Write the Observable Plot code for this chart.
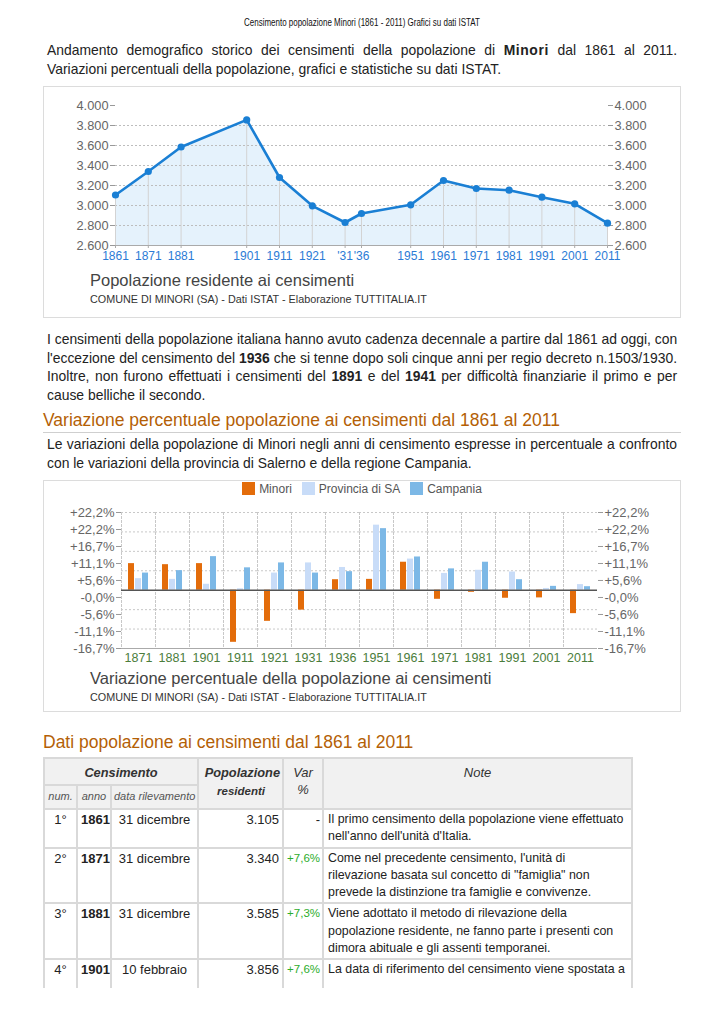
<!DOCTYPE html>
<html lang="it">
<head>
<meta charset="utf-8">
<script src="https://cdn.jsdelivr.net/npm/d3@7"></script>
<script src="https://cdn.jsdelivr.net/npm/@observablehq/plot@0.6"></script>
<style>
  html,body{margin:0;padding:0;background:#fff;}
  body{font-family:"Liberation Sans",Arial,Helvetica,sans-serif;color:#222;}
  #page{position:relative;width:724px;height:1024px;overflow:hidden;}
  .abs{position:absolute;}
  .hdr{top:16px;left:0;width:724px;text-align:center;font-size:10.5px;line-height:12px;color:#111;transform:scaleX(0.76);transform-origin:362px 0;white-space:nowrap;}
  .para{left:47px;width:630px;font-size:13.9px;line-height:18.5px;color:#222;}
  .para div{white-space:nowrap;}
  .para .j{text-align:justify;text-align-last:justify;}
  .box{left:43px;width:638px;height:232px;box-sizing:border-box;border:1px solid #dcdcdc;background:#fff;}
  .box svg{position:absolute;left:0;}
  .ctitle{position:absolute;left:46px;font-size:16.5px;color:#444;line-height:20px;white-space:nowrap;}
  .csub{position:absolute;left:46px;font-size:10.8px;color:#333;line-height:14px;white-space:nowrap;}
  .h2{left:43px;width:638px;font-size:17.5px;line-height:24px;color:#b45f06;white-space:nowrap;}
  .legend{position:absolute;top:1px;left:0;width:100%;text-align:center;font-size:12px;color:#555;line-height:14px;white-space:nowrap;}
  .legend span.it{display:inline-block;margin:0 5px;}
  .legend i{display:inline-block;width:13px;height:13px;vertical-align:-2px;margin-right:4px;}
  table{border-collapse:collapse;table-layout:fixed;width:590px;font-size:13px;line-height:17.3px;color:#222;}
  th,td{border:2px solid #d9d9d9;padding:1px 3px;vertical-align:top;white-space:nowrap;overflow:hidden;}
  th{background:#f1f1f1;font-weight:normal;font-style:italic;color:#333;}
  th.big{font-size:12.8px;font-weight:bold;padding-top:5px;height:19px;}
  th.sub{font-size:11px;color:#555;height:22px;vertical-align:middle;padding:0 2px;}
  th.pop{font-size:12.8px;padding-top:5px;text-align:right;padding-right:2px;}
  th.pop small{font-size:11.5px;font-weight:bold;display:block;text-align:center;margin-top:2px;}
  th.var{font-size:13px;padding-top:5px;text-align:center;}
  th.note{font-size:13px;padding-top:5px;text-align:center;}
  td.c{text-align:center;}
  td.r{text-align:right;}
  td.g{text-align:right;color:#2cad2c;font-size:11.5px;padding:1px 2px;}
  td.n{font-size:12.4px;padding-left:4px;}
  tr.last td{height:50px;}
</style>
</head>
<body>
<div id="page">
  <div class="abs hdr">Censimento popolazione Minori (1861 - 2011) Grafici su dati ISTAT</div>
  <div class="abs para" style="top:41px;line-height:19px;">
    <div class="j">Andamento demografico storico dei censimenti della popolazione di <b style="letter-spacing:0.6px">Minori</b> dal 1861 al 2011.</div>
    <div>Variazioni percentuali della popolazione, grafici e statistiche su dati ISTAT.</div>
  </div>

  <div class="abs box" style="top:86px;" id="box1">
    <div class="ctitle" style="top:183px;">Popolazione residente ai censimenti</div>
    <div class="csub" style="top:205px;">COMUNE DI MINORI (SA) - Dati ISTAT - Elaborazione TUTTITALIA.IT</div>
  </div>

  <div class="abs para" style="top:330px;">
    <div class="j">I censimenti della popolazione italiana hanno avuto cadenza decennale a partire dal 1861 ad oggi, con</div>
    <div class="j">l'eccezione del censimento del <b>1936</b> che si tenne dopo soli cinque anni per regio decreto n.1503/1930.</div>
    <div class="j">Inoltre, non furono effettuati i censimenti del <b>1891</b> e del <b>1941</b> per difficoltà finanziarie il primo e per</div>
    <div>cause belliche il secondo.</div>
  </div>

  <div class="abs h2" style="top:408px;height:24px;border-bottom:1px solid #cfcfcf;">Variazione percentuale popolazione ai censimenti dal 1861 al 2011</div>

  <div class="abs para" style="top:435px;line-height:19px;">
    <div class="j">Le variazioni della popolazione di Minori negli anni di censimento espresse in percentuale a confronto</div>
    <div>con le variazioni della provincia di Salerno e della regione Campania.</div>
  </div>

  <div class="abs box" style="top:480px;" id="box2">
    <div class="legend" id="legend"></div>
    <div class="ctitle" style="top:187px;">Variazione percentuale della popolazione ai censimenti</div>
    <div class="csub" style="top:209px;">COMUNE DI MINORI (SA) - Dati ISTAT - Elaborazione TUTTITALIA.IT</div>
  </div>

  <div class="abs h2" style="top:730px;">Dati popolazione ai censimenti dal 1861 al 2011</div>

  <div class="abs" style="top:757px;left:43px;width:592px;height:231px;overflow:hidden;" id="tablewrap"></div>
</div>

<script>
// ---------- Line chart data ----------
const censusYears = [1861, 1871, 1881, 1901, 1911, 1921, 1931, 1936, 1951, 1961, 1971, 1981, 1991, 2001, 2011];
const yearLabels = ["1861", "1871", "1881", "1901", "1911", "1921", "'31", "'36", "1951", "1961", "1971", "1981", "1991", "2001", "2011"];
const population = [3105, 3340, 3585, 3856, 3280, 2997, 2830, 2920, 3007, 3250, 3170, 3153, 3083, 3017, 2823];
const popTicks = [2600, 2800, 3000, 3200, 3400, 3600, 3800, 4000];
const popGrid = [2800, 3000, 3200, 3400, 3600, 3800];

// ---------- Bar chart data ----------
const varYears = ["1871", "1881", "1901", "1911", "1921", "1931", "1936", "1951", "1961", "1971", "1981", "1991", "2001", "2011"];
const seriesNames = ["Minori", "Provincia di SA", "Campania"];
const seriesColors = ["#e36c0a", "#c8dcf8", "#7cb8e6"];
const minoriVar = [7.6, 7.3, 7.6, -14.9, -8.9, -5.7, 3.0, 3.1, 8.0, -2.6, -0.6, -2.3, -2.2, -6.7];
const provinciaVar = [3.3, 3.1, 1.7, 0.4, 4.9, 7.8, 6.5, 18.6, 8.9, 4.8, 5.7, 5.2, 0.5, 1.6];
const campaniaVar = [4.9, 5.6, 9.6, 6.4, 7.8, 4.9, 5.3, 17.6, 9.5, 6.1, 8.0, 3.0, 1.1, 1.0];
const varTickValues = [-16.67, -11.81, -6.94, -2.08, 2.78, 7.64, 12.5, 17.36, 22.22];
const varTickLabels = ["-16,7%", "-11,1%", "-5,6%", "-0,0%", "+5,6%", "+11,1%", "+16,7%", "+22,2%", "+22,2%"];
const varGrid = [-11.11, -5.56, 5.56, 11.11, 16.67, 22.22];
const varDomain = [-16.67, 22.22];

// ---------- Table data ----------
const tabNum = ["1°", "2°", "3°", "4°"];
const tabYear = ["1861", "1871", "1881", "1901"];
const tabDate = ["31 dicembre", "31 dicembre", "31 dicembre", "10 febbraio"];
const tabPop = ["3.105", "3.340", "3.585", "3.856"];
const tabVar = ["-", "+7,6%", "+7,3%", "+7,6%"];
const tabNote = [
  ["Il primo censimento della popolazione viene effettuato", "nell'anno dell'unità d'Italia."],
  ["Come nel precedente censimento, l'unità di", "rilevazione basata sul concetto di \"famiglia\" non", "prevede la distinzione tra famiglie e convivenze."],
  ["Viene adottato il metodo di rilevazione della", "popolazione residente, ne fanno parte i presenti con", "dimora abituale e gli assenti temporanei."],
  ["La data di riferimento del censimento viene spostata a"]
];

const itFmt = d3.formatLocale({decimal: ",", thousands: ".", grouping: [3], currency: ["", "€"]}).format(",");
const font = "'Liberation Sans', Arial, sans-serif";

// ---------- Line chart ----------
const popData = censusYears.map((y, i) => ({year: y, pop: population[i]}));
const yearLabelMap = new Map(censusYears.map((y, i) => [y, yearLabels[i]]));
const lineBlue = "#1a7fd4";

const chart1 = Plot.plot({
  width: 636, height: 180,
  marginLeft: 71, marginRight: 73, marginTop: 18, marginBottom: 22,
  style: {fontFamily: font, fontSize: "12.8px", background: "transparent"},
  x: {domain: [1861, 2011], label: null},
  y: {domain: [2600, 4000], label: null},
  marks: [
    Plot.areaY(popData, {x: "year", y1: 2600, y2: "pop", fill: "#e5f2fc"}),
    Plot.ruleY(popGrid, {stroke: "#bdbdbd", strokeDasharray: "2,2"}),
    Plot.ruleX(popData, {x: "year", y1: 2600, y2: "pop", stroke: "#d3d3d3"}),
    Plot.ruleY([2600], {stroke: "#aaa"}),
    Plot.axisY({anchor: "left", ticks: popTicks, tickFormat: itFmt, tickSize: 5, tickPadding: 2, line: true, stroke: "#999", fill: "#666", label: null}),
    Plot.axisY({anchor: "right", ticks: popTicks, tickFormat: itFmt, tickSize: 5, tickPadding: 2, line: true, stroke: "#999", fill: "#666", label: null}),
    Plot.axisX({ticks: censusYears, tickFormat: d => yearLabelMap.get(d), tickSize: 3, tickPadding: 3, stroke: "#aaa", fill: "#2b7bd6", fontSize: 12, label: null}),
    Plot.lineY(popData, {x: "year", y: "pop", stroke: lineBlue, strokeWidth: 2.6}),
    Plot.dot(popData, {x: "year", y: "pop", r: 3.6, fill: lineBlue, stroke: "none"})
  ]
});
chart1.style.top = "0px";
document.getElementById("box1").prepend(chart1);

// ---------- Bar chart ----------
const allVar = [minoriVar, provinciaVar, campaniaVar];
const barData = varYears.flatMap((y, i) => seriesNames.map((s, j) => ({year: y, serie: s, value: allVar[j][i]})));
const varLabelMap = new Map(varTickValues.map((v, i) => [v, varTickLabels[i]]));

const chart2 = Plot.plot({
  width: 636, height: 166,
  marginLeft: 75, marginRight: 82, marginTop: 9, marginBottom: 21,
  style: {fontFamily: font, fontSize: "13px", background: "transparent"},
  fx: {domain: varYears, padding: 0, label: null},
  x: {domain: seriesNames, paddingInner: 0.15, paddingOuter: 1, axis: null},
  y: {domain: varDomain, label: null},
  color: {domain: seriesNames, range: seriesColors},
  marks: [
    Plot.ruleY(varGrid, {stroke: "#c8c8c8", strokeDasharray: "2,2"}),
    Plot.frame({anchor: "left", stroke: "#c8c8c8", strokeDasharray: "2,2"}),
    Plot.barY(barData, {fx: "year", x: "serie", y: "value", fill: "serie", inset: 0}),
    Plot.ruleY([0], {stroke: "#555", strokeWidth: 1.6}),
    Plot.ruleY([varDomain[0]], {stroke: "#aaa"}),
    Plot.axisY({anchor: "left", ticks: varTickValues, tickFormat: d => varLabelMap.get(d), tickSize: 5, tickPadding: 2, line: true, stroke: "#999", fill: "#666", label: null}),
    Plot.axisY({anchor: "right", ticks: varTickValues, tickFormat: d => varLabelMap.get(d), tickSize: 5, tickPadding: 2, line: true, stroke: "#999", fill: "#666", label: null}),
    Plot.axisFx({anchor: "bottom", tickSize: 0, tickPadding: 5, fill: "#4b7d3b", fontSize: 12.5, label: null})
  ]
});
chart2.style.top = "22px";
document.getElementById("box2").prepend(chart2);

// legend
const legend = document.getElementById("legend");
legend.innerHTML = seriesNames.map((s, i) => `<span class="it"><i style="background:${seriesColors[i]}"></i>${s}</span>`).join("");

// ---------- Table ----------
let html = `<table>
<colgroup><col style="width:33px"><col style="width:34px"><col style="width:87px"><col style="width:85px"><col style="width:40px"><col></colgroup>
<thead>
<tr><th colspan="3" class="big">Censimento</th><th rowspan="2" class="pop"><b>Popolazione</b><small>residenti</small></th><th rowspan="2" class="var">Var<br>%</th><th rowspan="2" class="note">Note</th></tr>
<tr><th class="sub">num.</th><th class="sub">anno</th><th class="sub">data rilevamento</th></tr>
</thead><tbody>`;
tabNum.forEach((n, i) => {
  const cls = i === tabNum.length - 1 ? ' class="last"' : "";
  html += `<tr${cls}><td class="c">${n}</td><td class="c"><b>${tabYear[i]}</b></td><td class="c">${tabDate[i]}</td><td class="r">${tabPop[i]}</td><td class="g" style="${i === 0 ? "color:#222;font-size:13px" : ""}">${tabVar[i]}</td><td class="n">${tabNote[i].join("<br>")}</td></tr>`;
});
html += `</tbody></table>`;
document.getElementById("tablewrap").innerHTML = html;
</script>
</body>
</html>
